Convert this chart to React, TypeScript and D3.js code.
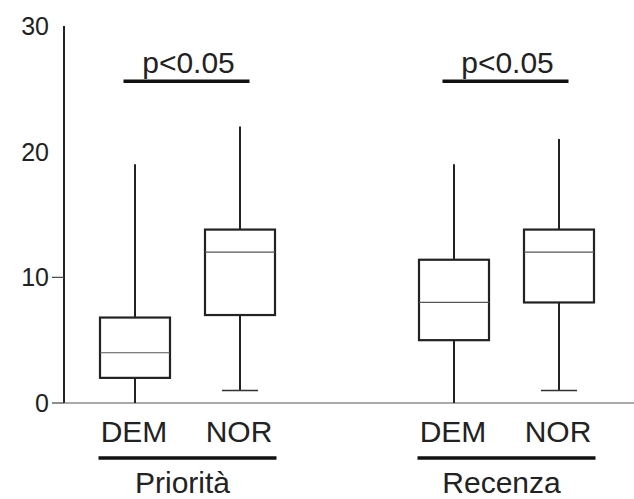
import React, { useEffect, useRef } from "react";
import * as d3 from "d3";

// groups and subjects
const groups = ["Priorità", "Recenza"];
const subjects = ["DEM", "NOR"];

// box stats per group, in order DEM, NOR
const mins = [[0, 1], [0, 1]];
const q1s = [[2, 7], [5, 8]];
const medians = [[4, 12], [8, 12]];
const q3s = [[6.8, 13.8], [11.4, 13.8]];
const maxs = [[19, 22], [19, 21]];

const yTicks = [0, 10, 20, 30];
const sigLabels = ["p<0.05", "p<0.05"];
const sigLevel = 25.6;

const App = () => {
  const chartRef = useRef(null);

  useEffect(() => {
    const width = 634;
    const height = 499;
    const font = "'Liberation Sans', Arial, sans-serif";

    d3.select(chartRef.current).selectAll("*").remove();

    const svg = d3
      .select(chartRef.current)
      .append("svg")
      .attr("width", width)
      .attr("height", height)
      .style("position", "absolute")
      .style("left", 0)
      .style("top", 0)
      .style("background", "#fff");

    // scales
    const yScale = d3.scaleLinear().domain([0, 30]).range([403, 26]);
    const groupScale = d3.scaleBand().domain(groups).range([28, 666]);
    const subScale = d3.scalePoint().domain(subjects).range([0, 105]);
    const cx = (g, s) =>
      groupScale(g) + groupScale.bandwidth() / 2 - 52.5 + subScale(s);
    const gc = (g) => groupScale(g) + groupScale.bandwidth() / 2;

    const boxW = 70;
    const capW = 18;

    // axes
    svg
      .append("line")
      .attr("x1", 64)
      .attr("x2", 64)
      .attr("y1", yScale(30))
      .attr("y2", yScale(0))
      .attr("stroke", "#222")
      .attr("stroke-width", 2);

    svg
      .append("line")
      .attr("x1", 64)
      .attr("x2", width)
      .attr("y1", yScale(0))
      .attr("y2", yScale(0))
      .attr("stroke", "#555")
      .attr("stroke-width", 1.2);

    // only the two lower ticks are drawn in the original
    svg
      .selectAll(".ytick")
      .data(yTicks.filter((t) => t <= 10))
      .enter()
      .append("line")
      .attr("x1", 52)
      .attr("x2", 64)
      .attr("y1", (d) => yScale(d))
      .attr("y2", (d) => yScale(d))
      .attr("stroke", "#444")
      .attr("stroke-width", 1.2);

    svg
      .selectAll(".ylabel")
      .data(yTicks)
      .enter()
      .append("text")
      .attr("x", 49)
      .attr("y", (d) => yScale(d))
      .attr("dy", "0.36em")
      .style("text-anchor", "end")
      .style("font-family", font)
      .style("font-size", "25px")
      .style("fill", "#222")
      .text((d) => d);

    // boxes
    groups.forEach((g, gi) => {
      subjects.forEach((s, si) => {
        const x = cx(g, s);
        const b = svg.append("g");

        // whiskers
        b.append("line")
          .attr("x1", x)
          .attr("x2", x)
          .attr("y1", yScale(maxs[gi][si]))
          .attr("y2", yScale(q3s[gi][si]))
          .attr("stroke", "#222")
          .attr("stroke-width", 2);
        b.append("line")
          .attr("x1", x)
          .attr("x2", x)
          .attr("y1", yScale(q1s[gi][si]))
          .attr("y2", yScale(mins[gi][si]))
          .attr("stroke", "#222")
          .attr("stroke-width", 2);
        // bottom cap (hidden by the axis when min is 0)
        if (mins[gi][si] > 0) {
          b.append("line")
            .attr("x1", x - capW)
            .attr("x2", x + capW)
            .attr("y1", yScale(mins[gi][si]))
            .attr("y2", yScale(mins[gi][si]))
            .attr("stroke", "#333")
            .attr("stroke-width", 1.5);
        }

        // box
        b.append("rect")
          .attr("x", x - boxW / 2)
          .attr("y", yScale(q3s[gi][si]))
          .attr("width", boxW)
          .attr("height", yScale(q1s[gi][si]) - yScale(q3s[gi][si]))
          .attr("fill", "#fff")
          .attr("stroke", "#222")
          .attr("stroke-width", 2.2);

        // median
        b.append("line")
          .attr("x1", x - boxW / 2)
          .attr("x2", x + boxW / 2)
          .attr("y1", yScale(medians[gi][si]))
          .attr("y2", yScale(medians[gi][si]))
          .attr("stroke", "#555")
          .attr("stroke-width", 1.2);

        // subject label
        svg
          .append("text")
          .attr("x", x - 1)
          .attr("y", 442)
          .style("text-anchor", "middle")
          .style("font-family", font)
          .style("font-size", "30px")
          .style("fill", "#222")
          .text(s);
      });

      // significance bar + label
      svg
        .append("line")
        .attr("x1", gc(g) - 64)
        .attr("x2", gc(g) + 62)
        .attr("y1", yScale(sigLevel))
        .attr("y2", yScale(sigLevel))
        .attr("stroke", "#111")
        .attr("stroke-width", 3.5);
      svg
        .append("text")
        .attr("x", gc(g) + 1)
        .attr("y", yScale(sigLevel) - 8)
        .style("text-anchor", "middle")
        .style("font-family", font)
        .style("font-size", "30px")
        .style("fill", "#222")
        .text(sigLabels[gi]);

      // group underline + label
      svg
        .append("line")
        .attr("x1", gc(g) - 89)
        .attr("x2", gc(g) + 89)
        .attr("y1", 458)
        .attr("y2", 458)
        .attr("stroke", "#111")
        .attr("stroke-width", 3.5);
      svg
        .append("text")
        .attr("x", gc(g) - 5)
        .attr("y", 493)
        .style("text-anchor", "middle")
        .style("font-family", font)
        .style("font-size", "30px")
        .style("fill", "#222")
        .text(g);
    });
  }, []);

  return <div ref={chartRef}></div>;
};

export default App;
